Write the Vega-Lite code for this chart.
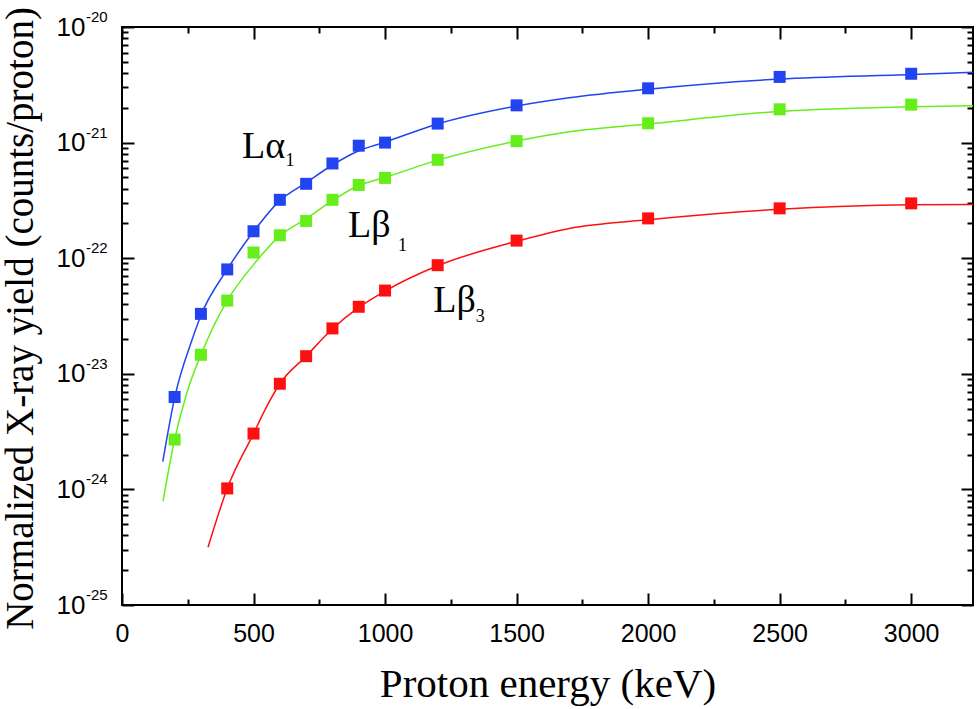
{
  "$schema": "https://vega.github.io/schema/vega-lite/v6.json",
  "width": 851,
  "height": 578,
  "autosize": {"type": "none"},
  "padding": {"left": 122, "top": 27, "right": 7, "bottom": 104},
  "background": "white",
  "config": {
    "view": {"stroke": "black", "strokeWidth": 2},
    "axis": {
      "grid": false,
      "domain": false,
      "tickColor": "black",
      "tickWidth": 2,
      "labelFont": "Liberation Sans",
      "labelColor": "black",
      "labelFlush": false,
      "labelOverlap": false,
      "titleFont": "Liberation Serif",
      "titleFontWeight": "normal",
      "titleColor": "black"
    }
  },
  "datasets": {
    "fit": [
      {"line": "La1", "energy": 155, "yield": 1.74e-24},
      {"line": "La1", "energy": 200, "yield": 6.2e-24},
      {"line": "La1", "energy": 266, "yield": 1.96e-23},
      {"line": "La1", "energy": 300, "yield": 3.2e-23},
      {"line": "La1", "energy": 400, "yield": 8.0e-23},
      {"line": "La1", "energy": 500, "yield": 1.7e-22},
      {"line": "La1", "energy": 600, "yield": 3.15e-22},
      {"line": "La1", "energy": 700, "yield": 4.5e-22},
      {"line": "La1", "energy": 800, "yield": 6.4e-22},
      {"line": "La1", "energy": 900, "yield": 8.5e-22},
      {"line": "La1", "energy": 1000, "yield": 1.01e-21},
      {"line": "La1", "energy": 1200, "yield": 1.45e-21},
      {"line": "La1", "energy": 1500, "yield": 2.07e-21},
      {"line": "La1", "energy": 1700, "yield": 2.44e-21},
      {"line": "La1", "energy": 2000, "yield": 2.9e-21},
      {"line": "La1", "energy": 2500, "yield": 3.55e-21},
      {"line": "La1", "energy": 3000, "yield": 3.88e-21},
      {"line": "La1", "energy": 3235, "yield": 4.06e-21},
      {"line": "Lb1", "energy": 156, "yield": 7.9e-25},
      {"line": "Lb1", "energy": 200, "yield": 2.7e-24},
      {"line": "Lb1", "energy": 247, "yield": 6.9e-24},
      {"line": "Lb1", "energy": 300, "yield": 1.46e-23},
      {"line": "Lb1", "energy": 400, "yield": 4.3e-23},
      {"line": "Lb1", "energy": 500, "yield": 8.8e-23},
      {"line": "Lb1", "energy": 600, "yield": 1.56e-22},
      {"line": "Lb1", "energy": 700, "yield": 2.2e-22},
      {"line": "Lb1", "energy": 800, "yield": 3.15e-22},
      {"line": "Lb1", "energy": 900, "yield": 4.25e-22},
      {"line": "Lb1", "energy": 1000, "yield": 5.0e-22},
      {"line": "Lb1", "energy": 1200, "yield": 7.05e-22},
      {"line": "Lb1", "energy": 1500, "yield": 1.03e-21},
      {"line": "Lb1", "energy": 1700, "yield": 1.24e-21},
      {"line": "Lb1", "energy": 2000, "yield": 1.45e-21},
      {"line": "Lb1", "energy": 2500, "yield": 1.86e-21},
      {"line": "Lb1", "energy": 3000, "yield": 2.04e-21},
      {"line": "Lb1", "energy": 3235, "yield": 2.08e-21},
      {"line": "Lb3", "energy": 327, "yield": 3.16e-25},
      {"line": "Lb3", "energy": 400, "yield": 1.02e-24},
      {"line": "Lb3", "energy": 500, "yield": 3.04e-24},
      {"line": "Lb3", "energy": 544, "yield": 4.9e-24},
      {"line": "Lb3", "energy": 600, "yield": 8.2e-24},
      {"line": "Lb3", "energy": 700, "yield": 1.42e-23},
      {"line": "Lb3", "energy": 800, "yield": 2.45e-23},
      {"line": "Lb3", "energy": 900, "yield": 3.75e-23},
      {"line": "Lb3", "energy": 1000, "yield": 5.2e-23},
      {"line": "Lb3", "energy": 1200, "yield": 8.6e-23},
      {"line": "Lb3", "energy": 1500, "yield": 1.4e-22},
      {"line": "Lb3", "energy": 1700, "yield": 1.81e-22},
      {"line": "Lb3", "energy": 2000, "yield": 2.15e-22},
      {"line": "Lb3", "energy": 2500, "yield": 2.65e-22},
      {"line": "Lb3", "energy": 3000, "yield": 2.9e-22},
      {"line": "Lb3", "energy": 3235, "yield": 2.92e-22}
    ],
    "points": [
      {"line": "La1", "energy": 200, "yield": 6.3e-24},
      {"line": "La1", "energy": 300, "yield": 3.3e-23},
      {"line": "La1", "energy": 400, "yield": 8.0e-23},
      {"line": "La1", "energy": 500, "yield": 1.71e-22},
      {"line": "La1", "energy": 600, "yield": 3.2e-22},
      {"line": "La1", "energy": 700, "yield": 4.4e-22},
      {"line": "La1", "energy": 800, "yield": 6.6e-22},
      {"line": "La1", "energy": 900, "yield": 9.4e-22},
      {"line": "La1", "energy": 1000, "yield": 1.0e-21},
      {"line": "La1", "energy": 1200, "yield": 1.46e-21},
      {"line": "La1", "energy": 1500, "yield": 2.1e-21},
      {"line": "La1", "energy": 2000, "yield": 2.95e-21},
      {"line": "La1", "energy": 2500, "yield": 3.7e-21},
      {"line": "La1", "energy": 3000, "yield": 3.94e-21},
      {"line": "Lb1", "energy": 200, "yield": 2.7e-24},
      {"line": "Lb1", "energy": 300, "yield": 1.46e-23},
      {"line": "Lb1", "energy": 400, "yield": 4.3e-23},
      {"line": "Lb1", "energy": 500, "yield": 1.12e-22},
      {"line": "Lb1", "energy": 600, "yield": 1.58e-22},
      {"line": "Lb1", "energy": 700, "yield": 2.1e-22},
      {"line": "Lb1", "energy": 800, "yield": 3.2e-22},
      {"line": "Lb1", "energy": 900, "yield": 4.3e-22},
      {"line": "Lb1", "energy": 1000, "yield": 4.95e-22},
      {"line": "Lb1", "energy": 1200, "yield": 7.1e-22},
      {"line": "Lb1", "energy": 1500, "yield": 1.03e-21},
      {"line": "Lb1", "energy": 2000, "yield": 1.47e-21},
      {"line": "Lb1", "energy": 2500, "yield": 1.94e-21},
      {"line": "Lb1", "energy": 3000, "yield": 2.13e-21},
      {"line": "Lb3", "energy": 400, "yield": 1.02e-24},
      {"line": "Lb3", "energy": 500, "yield": 3.04e-24},
      {"line": "Lb3", "energy": 600, "yield": 8.2e-24},
      {"line": "Lb3", "energy": 700, "yield": 1.42e-23},
      {"line": "Lb3", "energy": 800, "yield": 2.47e-23},
      {"line": "Lb3", "energy": 900, "yield": 3.8e-23},
      {"line": "Lb3", "energy": 1000, "yield": 5.25e-23},
      {"line": "Lb3", "energy": 1200, "yield": 8.7e-23},
      {"line": "Lb3", "energy": 1500, "yield": 1.42e-22},
      {"line": "Lb3", "energy": 2000, "yield": 2.21e-22},
      {"line": "Lb3", "energy": 2500, "yield": 2.7e-22},
      {"line": "Lb3", "energy": 3000, "yield": 2.98e-22}
    ],
    "labels": [
      {"kind": "main", "energy": 456, "yield": 7.36e-22, "text": "Lα"},
      {"kind": "sub", "energy": 622, "yield": 6.27e-22, "text": "1"},
      {"kind": "main", "energy": 859, "yield": 1.53e-22, "text": "Lβ"},
      {"kind": "sub", "energy": 1049, "yield": 1.15e-22, "text": "1"},
      {"kind": "main", "energy": 1183, "yield": 3.43e-23, "text": "Lβ"},
      {"kind": "sub", "energy": 1345, "yield": 2.81e-23, "text": "3"}
    ],
    "decades": [
      {"v": 1e-25, "exp": "-25"},
      {"v": 1e-24, "exp": "-24"},
      {"v": 1e-23, "exp": "-23"},
      {"v": 1e-22, "exp": "-22"},
      {"v": 1e-21, "exp": "-21"},
      {"v": 1e-20, "exp": "-20"}
    ]
  },
  "resolve": {"axis": {"x": "independent", "y": "independent"}},
  "layer": [
    {
      "data": {"name": "fit"},
      "mark": {"type": "line", "interpolate": "monotone", "strokeWidth": 1.5},
      "encoding": {
        "x": {
          "field": "energy",
          "type": "quantitative",
          "scale": {"domain": [0, 3235], "nice": false, "zero": false},
          "axis": {
            "orient": "bottom",
            "values": [0, 500, 1000, 1500, 2000, 2500, 3000],
            "format": "d",
            "tickSize": -12,
            "labelFontSize": 25,
            "labelPadding": 28,
            "title": "Proton energy (keV)",
            "titleFontSize": 41,
            "titleBaseline": "alphabetic",
            "titleY": 91
          }
        },
        "y": {
          "field": "yield",
          "type": "quantitative",
          "scale": {"type": "log", "domain": [1e-25, 1e-20], "nice": false},
          "axis": {
            "orient": "left",
            "values": [1e-25, 1e-24, 1e-23, 1e-22, 1e-21, 1e-20],
            "tickSize": -12,
            "labelExpr": "'10'",
            "labelFontSize": 26,
            "labelPadding": 49,
            "title": "Normalized X-ray yield (counts/proton)",
            "titleFontSize": 39,
            "titleBaseline": "alphabetic",
            "titleX": -90,
            "titleY": 291
          }
        },
        "color": {
          "field": "line",
          "type": "nominal",
          "scale": {"domain": ["La1", "Lb1", "Lb3"], "range": ["#2244f0", "#66ee1a", "#ff1010"]},
          "legend": null
        }
      }
    },
    {
      "data": {"name": "points"},
      "mark": {"type": "square", "size": 144, "filled": true, "opacity": 1},
      "encoding": {
        "x": {
          "field": "energy",
          "type": "quantitative",
          "axis": {
            "orient": "bottom",
            "values": [250, 750, 1250, 1750, 2250, 2750],
            "tickSize": -6,
            "labels": false,
            "title": null
          }
        },
        "y": {
          "field": "yield",
          "type": "quantitative",
          "axis": {
            "orient": "left",
            "values": [2e-25, 3e-25, 4e-25, 5e-25, 6e-25, 7e-25, 8e-25, 9e-25,
                       2e-24, 3e-24, 4e-24, 5e-24, 6e-24, 7e-24, 8e-24, 9e-24,
                       2e-23, 3e-23, 4e-23, 5e-23, 6e-23, 7e-23, 8e-23, 9e-23,
                       2e-22, 3e-22, 4e-22, 5e-22, 6e-22, 7e-22, 8e-22, 9e-22,
                       2e-21, 3e-21, 4e-21, 5e-21, 6e-21, 7e-21, 8e-21, 9e-21],
            "tickSize": -6,
            "labels": false,
            "title": null
          }
        },
        "color": {"field": "line", "type": "nominal", "legend": null}
      }
    },
    {
      "data": {"name": "labels"},
      "transform": [{"filter": "datum.kind === 'main'"}],
      "mark": {"type": "text", "font": "Liberation Serif", "fontSize": 38, "align": "left", "baseline": "alphabetic", "color": "black"},
      "encoding": {
        "x": {
          "field": "energy",
          "type": "quantitative",
          "axis": {
            "orient": "top",
            "values": [0, 500, 1000, 1500, 2000, 2500, 3000],
            "tickSize": -12,
            "labels": false,
            "title": null
          }
        },
        "y": {
          "field": "yield",
          "type": "quantitative",
          "axis": {
            "orient": "right",
            "values": [1e-25, 1e-24, 1e-23, 1e-22, 1e-21, 1e-20],
            "tickSize": -12,
            "labels": false,
            "title": null
          }
        },
        "text": {"field": "text"}
      }
    },
    {
      "data": {"name": "labels"},
      "transform": [{"filter": "datum.kind === 'sub'"}],
      "mark": {"type": "text", "font": "Liberation Serif", "fontSize": 18, "align": "left", "baseline": "alphabetic", "color": "black"},
      "encoding": {
        "x": {
          "field": "energy",
          "type": "quantitative",
          "axis": {
            "orient": "top",
            "values": [250, 750, 1250, 1750, 2250, 2750],
            "tickSize": -6,
            "labels": false,
            "title": null
          }
        },
        "y": {
          "field": "yield",
          "type": "quantitative",
          "axis": {
            "orient": "right",
            "values": [2e-25, 3e-25, 4e-25, 5e-25, 6e-25, 7e-25, 8e-25, 9e-25,
                       2e-24, 3e-24, 4e-24, 5e-24, 6e-24, 7e-24, 8e-24, 9e-24,
                       2e-23, 3e-23, 4e-23, 5e-23, 6e-23, 7e-23, 8e-23, 9e-23,
                       2e-22, 3e-22, 4e-22, 5e-22, 6e-22, 7e-22, 8e-22, 9e-22,
                       2e-21, 3e-21, 4e-21, 5e-21, 6e-21, 7e-21, 8e-21, 9e-21],
            "tickSize": -6,
            "labels": false,
            "title": null
          }
        },
        "text": {"field": "text"}
      }
    },
    {
      "data": {"name": "decades"},
      "mark": {"type": "text", "font": "Liberation Sans", "fontSize": 15, "align": "left", "baseline": "alphabetic", "dx": -36, "dy": -5, "color": "black"},
      "encoding": {
        "x": {"datum": 0, "type": "quantitative", "axis": null},
        "y": {"field": "v", "type": "quantitative", "axis": null},
        "text": {"field": "exp"}
      }
    }
  ]
}
